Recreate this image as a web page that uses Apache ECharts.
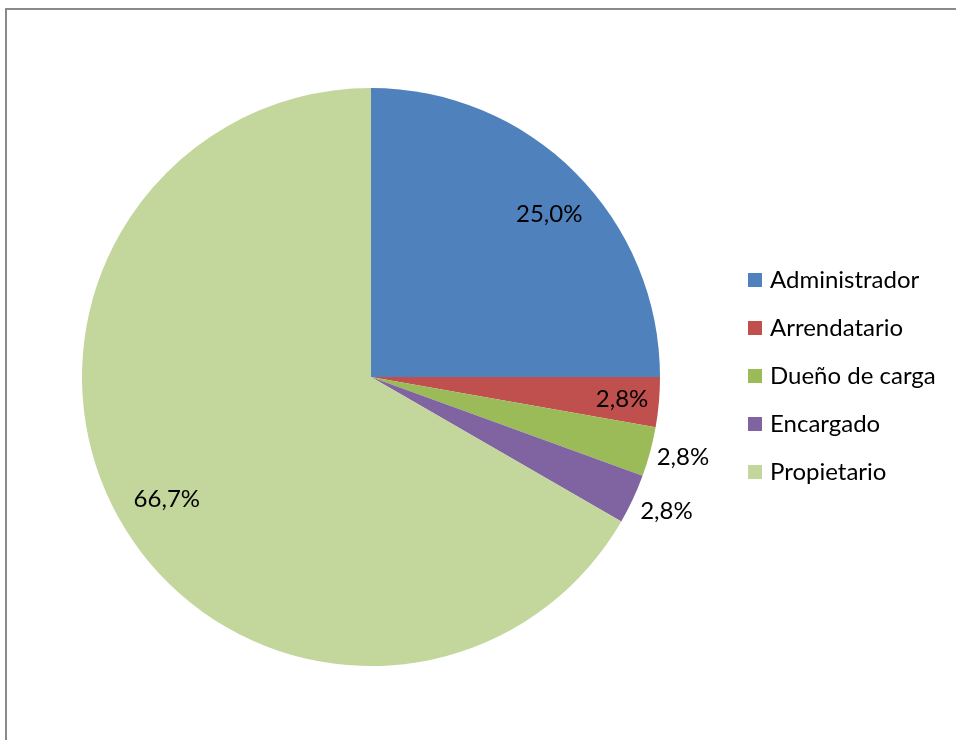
<!DOCTYPE html>
<html>
<head>
<meta charset="utf-8">
<script src="https://cdn.jsdelivr.net/npm/echarts@6/dist/echarts.min.js"></script>
<style>html,body{margin:0;padding:0;background:#fff}#c{width:956px;height:740px}</style>
</head>
<body>
<div id="c"></div>
<script>
const categories = ['Administrador', 'Arrendatario', 'Dueño de carga', 'Encargado', 'Propietario'];
const values = [9, 1, 1, 1, 24];

const colors = ['#4F81BD', '#C0504D', '#9BBB59', '#8064A2', '#C3D69B'];
const innerLabelIdx = [0, 1, 4];
const outerLabelIdx = [2, 3];
const labelNudge = [[5, 11], [7, 1], [-3, -4], [0, -4], [8, 0]];

const total = values.reduce((a, b) => a + b, 0);
const fmt = p => (p.value / total * 100).toFixed(1).replace('.', ',') + '%';
const FONT = 'Lato';
const center = [371, 377];

function overlay(radius, showIdx) {
  return {
    type: 'pie', radius: radius, center: center, startAngle: 90, clockwise: true,
    silent: true, legendHoverLink: false, animation: false,
    itemStyle: { color: 'transparent', borderWidth: 0 },
    emphasis: { disabled: true },
    labelLine: { show: false },
    data: categories.map((n, i) => ({
      name: n, value: values[i],
      label: { show: showIdx.includes(i), position: 'inside', formatter: fmt,
               offset: labelNudge[i],
               color: '#000', fontSize: 24, fontFamily: FONT }
    }))
  };
}

const chart = echarts.init(document.getElementById('c'), null, { renderer: 'canvas' });
chart.setOption({
  backgroundColor: '#fff',
  animation: false,
  color: colors,
  graphic: [{
    type: 'rect', shape: { x: 6, y: 9, width: 1200, height: 1200 },
    style: { fill: 'none', stroke: '#8a8a8a', lineWidth: 2 }, silent: true
  }],
  legend: {
    orient: 'vertical', left: 748, top: 268, padding: 0,
    itemWidth: 14, itemHeight: 14, itemGap: 24,
    icon: 'rect',
    textStyle: { fontSize: 24, fontFamily: FONT, color: '#000', lineHeight: 20, padding: [0, 0, 0, 3] },
    data: categories
  },
  series: [
    {
      type: 'pie', radius: 289, center: center, startAngle: 90, clockwise: true,
      silent: true, animation: false,
      itemStyle: { borderWidth: 0 },
      label: { show: false }, labelLine: { show: false },
      emphasis: { disabled: true },
      data: categories.map((n, i) => ({ name: n, value: values[i], itemStyle: { color: colors[i] } }))
    },
    overlay([195, 289], innerLabelIdx),
    overlay([289, 357], outerLabelIdx)
  ]
});
</script>
</body>
</html>
